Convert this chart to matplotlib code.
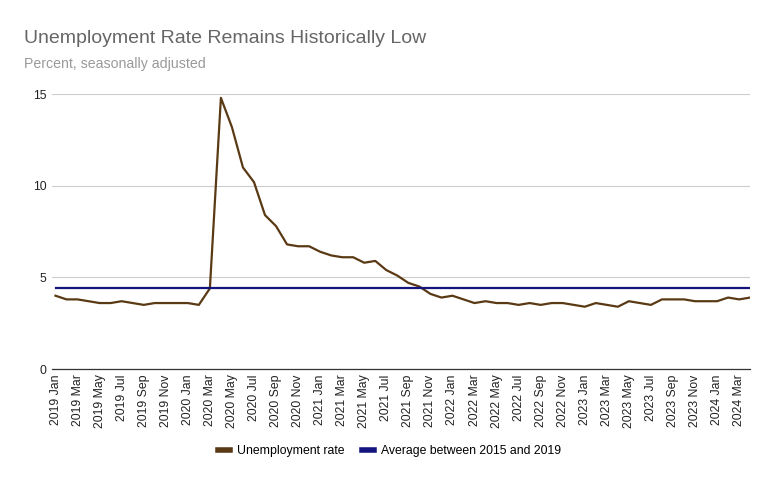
import matplotlib
matplotlib.use("Agg")
import matplotlib.pyplot as plt
import numpy as np

plt.rcParams['font.family'] = ['Liberation Sans', 'DejaVu Sans']

years = [2019, 2020, 2021, 2022, 2023, 2024]
month_names = ['Jan', 'Feb', 'Mar', 'Apr', 'May', 'Jun',
               'Jul', 'Aug', 'Sep', 'Oct', 'Nov', 'Dec']

unemployment = [
    4.0, 3.8, 3.8, 3.7, 3.6, 3.6, 3.7, 3.6, 3.5, 3.6, 3.6, 3.6,
    3.6, 3.5, 4.4, 14.8, 13.2, 11.0, 10.2, 8.4, 7.8, 6.8, 6.7, 6.7,
    6.4, 6.2, 6.1, 6.1, 5.8, 5.9, 5.4, 5.1, 4.7, 4.5, 4.1, 3.9,
    4.0, 3.8, 3.6, 3.7, 3.6, 3.6, 3.5, 3.6, 3.5, 3.6, 3.6, 3.5,
    3.4, 3.6, 3.5, 3.4, 3.7, 3.6, 3.5, 3.8, 3.8, 3.8, 3.7, 3.7,
    3.7, 3.9, 3.8, 3.9,
]
average_2015_2019 = 4.4

labels = []
for y in years:
    for m in month_names:
        labels.append(f"{y} {m}")
labels = labels[:len(unemployment)]

x = np.arange(len(unemployment))

fig = plt.figure(figsize=(7.79, 4.83), dpi=100)
ax = fig.add_axes([0.067, 0.236, 0.896, 0.569])

ax.plot(x, unemployment, color='#5a3a14', lw=1.6, label='Unemployment rate')
ax.plot(x, [average_2015_2019] * len(x), color='#14147f', lw=1.6,
        label='Average between 2015 and 2019')

ax.set_xlim(-0.3, len(x) - 1)
ax.set_ylim(0, 15)
ax.set_yticks([0, 5, 10, 15])
ax.set_xticks(x[::2])
ax.set_xticklabels(labels[::2], rotation=90, fontsize=8.8, color='#222222')
ax.tick_params(axis='y', labelsize=8.8, colors='#222222', length=0, pad=4)
ax.tick_params(axis='x', length=0, pad=4)

ax.grid(axis='y', color='#cccccc', lw=0.8)
ax.set_axisbelow(True)
for s in ['top', 'right', 'left']:
    ax.spines[s].set_visible(False)
ax.spines['bottom'].set_color('#333333')
ax.spines['bottom'].set_linewidth(0.9)

fig.text(0.031, 0.911, 'Unemployment Rate Remains Historically Low',
         fontsize=14.0, color='#666666', va='baseline')
fig.text(0.031, 0.859, 'Percent, seasonally adjusted',
         fontsize=10.2, color='#999999', va='baseline')

leg = fig.legend(loc='center', bbox_to_anchor=(0.5, 0.066), ncol=2,
                 frameon=False, fontsize=8.8, handlelength=1.0,
                 columnspacing=1.4, handletextpad=0.6)
for h in leg.get_lines():
    h.set_linewidth(4)

fig.savefig('out.png', dpi=100)
